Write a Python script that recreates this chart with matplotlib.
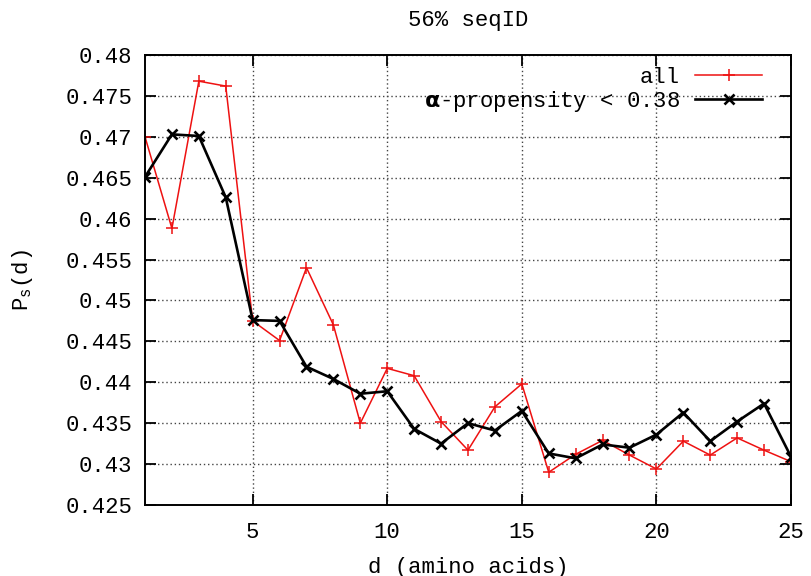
import numpy as np
import matplotlib
matplotlib.use("Agg")
import matplotlib.pyplot as plt

# sequence separation d (amino acids)
d = list(range(1, 26))

# P_s(d) for all residues
ps_all = [0.4700, 0.4588, 0.4768, 0.4762, 0.4475, 0.4451, 0.4540, 0.4470,
          0.4350, 0.4417, 0.4408, 0.4352, 0.4317, 0.4370, 0.4398, 0.4290,
          0.4312, 0.4329, 0.4311, 0.4294, 0.4328, 0.4311, 0.4332, 0.4317,
          0.4303]

# P_s(d) for alpha-propensity < 0.38
ps_alpha = [0.4651, 0.4703, 0.4701, 0.4626, 0.4476, 0.4475, 0.4419, 0.4404,
            0.4386, 0.4389, 0.4343, 0.4325, 0.4350, 0.4341, 0.4365, 0.4313,
            0.4307, 0.4324, 0.4320, 0.4336, 0.4363, 0.4328, 0.4352, 0.4374,
            0.4309]

xticks = [5, 10, 15, 20, 25]
yticks = [0.425, 0.43, 0.435, 0.44, 0.445, 0.45, 0.455, 0.46, 0.465, 0.47,
          0.475, 0.48]
ytick_labels = ["0.425", "0.43", "0.435", "0.44", "0.445", "0.45", "0.455",
                "0.46", "0.465", "0.47", "0.475", "0.48"]

plt.rcParams["font.family"] = ["Liberation Mono", "DejaVu Sans Mono"]
plt.rcParams["mathtext.default"] = "regular"

FS = 16

fig = plt.figure(figsize=(8.11, 5.76), dpi=100)
ax = fig.add_axes([0.1788, 0.1233, 0.7965, 0.7812])

ax.plot(d, ps_all, color="#ee1111", lw=1.1, marker="+", ms=9, mew=1.1,
        label="all")
ax.plot(d, ps_alpha, color="black", lw=1.9, marker="x", ms=7, mew=1.9,
        label=r"$\mathbf{\alpha}$-propensity < 0.38")

ax.set_xlim(1, 25)
ax.set_ylim(0.425, 0.48)
ax.set_xticks(xticks)
ax.set_yticks(yticks)
ax.set_yticklabels(ytick_labels)
ax.tick_params(direction="in", length=8, width=1.3, top=True, right=True,
               labelsize=FS)
ax.tick_params(axis="y", pad=9)
ax.tick_params(axis="x", pad=12)
ax.grid(True, color="#444444", linestyle=(0, (1, 2)), lw=1.0)
for sp in ax.spines.values():
    sp.set_linewidth(1.4)

ax.set_title("56% seqID", fontsize=FS, pad=21)
ax.set_xlabel("d (amino acids)", fontsize=FS, labelpad=10)
ax.set_ylabel("P$_s$(d)", fontsize=FS, labelpad=22)

leg = ax.legend(loc="upper right", bbox_to_anchor=(0.969, 0.994),
                frameon=False, fontsize=FS, markerfirst=False,
                handlelength=3.0, borderaxespad=0.0, borderpad=0.4,
                labelspacing=0.05, handletextpad=0.7)
for t in leg.get_texts():
    t.set_ha("right")
leg._legend_box.align = "right"

fig.savefig("out.png", dpi=100)
